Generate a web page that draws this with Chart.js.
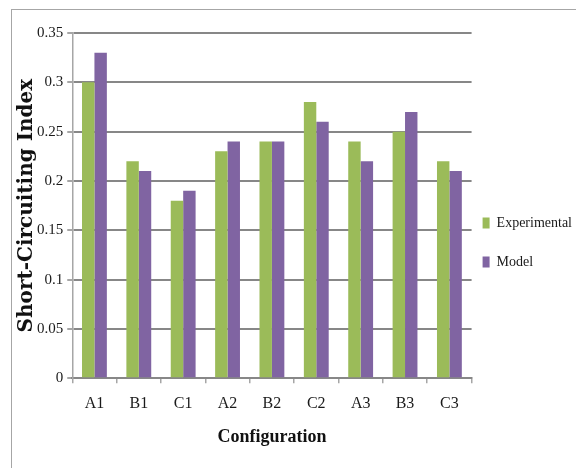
<!DOCTYPE html>
<html>
<head>
<meta charset="utf-8">
<script src="https://cdn.jsdelivr.net/npm/chart.js@4"></script>
<style>
  html,body{margin:0;padding:0;overflow:hidden;background:#fff;width:576px;height:468px;}
  #frame{position:absolute;left:11px;top:9px;width:640px;height:520px;border:1px solid #a6a6a6;}
  #bars{position:absolute;left:0;top:0;}
</style>
</head>
<body>
<div id="frame"></div>
<canvas id="bars" width="576" height="468"></canvas>
<script>
//data
var categories=['A1','B1','C1','A2','B2','C2','A3','B3','C3'];
var experimental=[0.30,0.22,0.18,0.23,0.24,0.28,0.24,0.25,0.22];
var model=[0.33,0.21,0.19,0.24,0.24,0.26,0.22,0.27,0.21];
var yTicks=[0,0.05,0.1,0.15,0.2,0.25,0.3,0.35];

var serif='"Liberation Serif", "Times New Roman", serif';

//nudge the legend to where the original has it
var legendNudge={
  id:'legendNudge',
  afterLayout:function(chart){
    var lg=chart.legend;
    if(!lg)return;
    lg.left-=14; lg.right-=14;
    lg.top+=2; lg.bottom+=2;
  }
};

var ctx=document.getElementById('bars').getContext('2d');
var chart=new Chart(ctx,{
  type:'bar',
  data:{
    labels:categories,
    datasets:[{
      label:'Experimental',
      data:experimental,
      backgroundColor:'#9bbb59',
      borderWidth:0
    },{
      label:'Model',
      data:model,
      backgroundColor:'#8064a2',
      borderWidth:0
    }]
  },
  options:{
    responsive:false,
    animation:false,
    categoryPercentage:0.56,
    barPercentage:1,
    layout:{padding:{left:9,top:33,bottom:20,right:-20}},
    plugins:{
      tooltip:{enabled:false},
      legend:{
        position:'right',
        labels:{
          boxWidth:7,
          boxHeight:11,
          padding:25,
          color:'#1a1a1a',
          font:{family:serif,size:14}
        }
      }
    },
    scales:{
      x:{
        grid:{
          display:true,
          drawOnChartArea:false,
          drawTicks:true,
          tickLength:5,
          color:'#a6a6a6',
          lineWidth:1.5
        },
        border:{color:'#878787',width:2},
        ticks:{
          padding:11,
          color:'#1a1a1a',
          font:{family:serif,size:16}
        },
        title:{
          display:true,
          text:'Configuration',
          color:'#111',
          padding:{top:2,bottom:0},
          font:{family:serif,size:18,weight:'bold'}
        }
      },
      y:{
        min:0,
        max:0.35,
        afterBuildTicks:function(axis){
          axis.ticks=yTicks.map(function(v){return {value:v};});
        },
        grid:{
          color:'#878787',
          lineWidth:2,
          tickLength:5,
          tickColor:'#a6a6a6'
        },
        border:{color:'#a6a6a6',width:1.5},
        ticks:{
          padding:4,
          color:'#1a1a1a',
          font:{family:serif,size:15},
          callback:function(v){return String(+(+v).toFixed(2));}
        },
        title:{
          display:true,
          text:'Short-Circuiting Index',
          color:'#111',
          padding:{top:6,bottom:-6},
          font:{family:'"DejaVu Serif", serif',size:20,weight:'bold'}
        }
      }
    }
  },
  plugins:[legendNudge]
});
</script>
</body>
</html>
